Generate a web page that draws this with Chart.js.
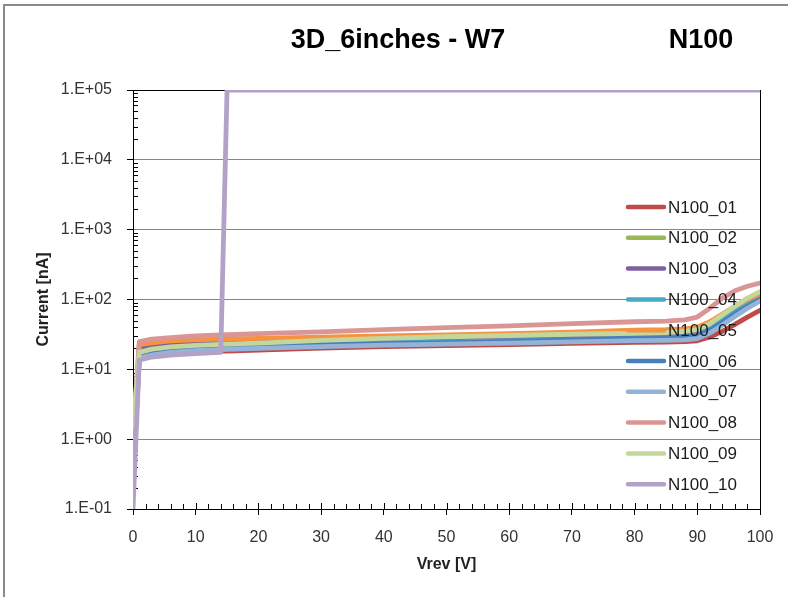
<!DOCTYPE html>
<html>
<head>
<meta charset="utf-8">
<title>3D_6inches - W7 N100</title>
<script src="https://cdn.jsdelivr.net/npm/chart.js@4.4.1/dist/chart.umd.min.js"></script>
<style>
  html, body { margin: 0; padding: 0; background: #fff; }
  #wrap { width: 788px; height: 597px; }
</style>
</head>
<body>
<div id="wrap"><canvas id="ivChart" width="788" height="597"></canvas></div>
<script>
// reverse voltage steps [V]
const vrev = [0, 1, 3, 6, 10, 14, 15, 20, 30, 40, 50, 60, 70, 80, 85, 88, 90, 92, 94, 96, 98, 100];

// leakage current [nA] per pad
const n100_01 = [0.25, 14, 15.4, 16.6, 17.6, 18.2, 18.3, 18.9, 20.1, 21.1, 21.8, 22.6, 23.5, 24.3, 24.6, 25, 25.6, 29, 35, 44, 56, 70];
const n100_02 = [0.6, 17, 19, 20.5, 21.5, 22.3, 22.5, 23.3, 25.5, 27, 28.5, 29.5, 30.8, 31.8, 32.3, 33.5, 35.5, 43, 56, 74, 95, 118];
const n100_03 = [0.5, 20.5, 22, 23, 23.8, 24.2, 24.4, 24.8, 25.5, 26.5, 27.2, 28, 28.8, 29.3, 30, 31, 33, 40, 52, 68, 86, 105];
const n100_04 = [0.4, 16, 17.8, 19.2, 20.5, 21.2, 21.4, 22, 23, 24, 24.5, 25.5, 26.5, 28, 28.5, 29.5, 31, 38, 50, 66, 86, 108];
const n100_05 = [0.8, 22.5, 24, 25.5, 26.5, 27, 27.2, 27.8, 29, 30, 31, 32.5, 34, 36.5, 37, 38, 40, 48, 62, 80, 100, 122];
const n100_06 = [0.35, 15.5, 17.3, 18.8, 20, 20.8, 21, 21.6, 22.6, 23.4, 24, 25, 26.3, 28, 28.3, 29, 30, 36, 47, 62, 80, 100];
const n100_07 = [0.3, 14.5, 16, 17.5, 18.5, 19.2, 19.4, 20, 21.2, 22.2, 23, 23.8, 24.8, 25.7, 26, 26.5, 27.5, 33, 43, 57, 75, 95];
const n100_08 = [1.2, 25, 27, 28.5, 30, 31, 31.3, 32.5, 34.5, 37, 39.5, 42, 45, 48, 49, 51, 56, 75, 105, 133, 155, 172];
const n100_09 = [1.5, 17.5, 19.5, 21, 22, 22.8, 23, 23.8, 26, 27.8, 29.3, 30.5, 31.8, 32.8, 33.5, 35, 37, 45, 60, 80, 105, 130];
const n100_10 = [0.1, 13.5, 15, 16, 16.8, 17.5, 100000, 100000, 100000, 100000, 100000, 100000, 100000, 100000, 100000, 100000, 100000, 100000, 100000, 100000, 100000, 100000];

const seriesNames = ['N100_01', 'N100_02', 'N100_03', 'N100_04', 'N100_05', 'N100_06', 'N100_07', 'N100_08', 'N100_09', 'N100_10'];
const seriesValues = [n100_01, n100_02, n100_03, n100_04, n100_05, n100_06, n100_07, n100_08, n100_09, n100_10];
const seriesColors = ['#BE4B48', '#98B954', '#7D60A0', '#46AAC5', '#F69240', '#4A7EBB', '#95B3D7', '#D99694', '#C3D69B', '#B3A2C7'];

const yTickValues = [0.1, 1, 10, 100, 1000, 10000, 100000];
const chartTitle = '3D_6inches - W7';
const chartTag = 'N100';

const FONT = "'Liberation Sans', Arial, sans-serif";
Chart.defaults.font.family = FONT;

function expLabel(value) {
    const e = Math.round(Math.log10(value));
    return '1.E' + (e < 0 ? '-' : '+') + String(Math.abs(e)).padStart(2, '0');
}

const decorations = {
    id: 'decorations',
    beforeDraw(chart) {
        const ctx = chart.ctx;
        ctx.save();
        // outer frame (only top/left edge visible)
        ctx.strokeStyle = '#8a8a8a';
        ctx.lineWidth = 2;
        ctx.strokeRect(4, 5, 900, 700);
        ctx.fillStyle = '#000';
        ctx.font = 'bold 27px ' + FONT;
        ctx.textBaseline = 'middle';
        ctx.textAlign = 'center';
        ctx.fillText(chartTitle, 398, 41);
        ctx.fillText(chartTag, 701, 41);
        ctx.restore();
    },
    beforeDatasetsDraw(chart) {
        const ctx = chart.ctx;
        const area = chart.chartArea;
        const xs = chart.scales.x;
        const ys = chart.scales.y;
        ctx.save();
        ctx.strokeStyle = '#000';
        ctx.lineWidth = 1;
        ctx.beginPath();
        // minor ticks on the log axis, inside the plot
        for (let e = -1; e < 5; e++) {
            for (let m = 2; m <= 9; m++) {
                const y = Math.round(ys.getPixelForValue(m * Math.pow(10, e))) + 0.5;
                ctx.moveTo(area.left, y);
                ctx.lineTo(area.left + 5, y);
            }
        }
        // x ticks inside the plot
        for (let v = 0; v <= 100; v += 2) {
            const x = Math.round(xs.getPixelForValue(v)) + 0.5;
            ctx.moveTo(x, area.bottom);
            ctx.lineTo(x, area.bottom - (v % 10 === 0 ? 6 : 5));
        }
        ctx.stroke();
        ctx.strokeRect(Math.round(area.left) + 0.5, Math.round(area.top) + 0.5,
            Math.round(area.right - area.left), Math.round(area.bottom - area.top));
        ctx.restore();
    },
    afterDatasetsDraw(chart) {
        const ctx = chart.ctx;
        ctx.save();
        ctx.font = '17px ' + FONT;
        ctx.textBaseline = 'middle';
        ctx.textAlign = 'left';
        chart.data.datasets.forEach((ds, i) => {
            const y = 207 + i * 30.8;
            ctx.strokeStyle = ds.borderColor;
            ctx.lineWidth = 4.5;
            ctx.lineCap = 'round';
            ctx.beginPath();
            ctx.moveTo(628, y);
            ctx.lineTo(664, y);
            ctx.stroke();
            ctx.fillStyle = '#1a1a1a';
            ctx.fillText(ds.label, 668, y + 1);
        });
        ctx.restore();
    }
};

const datasets = seriesNames.map((name, i) => ({
    label: name,
    data: vrev.map((v, k) => ({ x: v, y: seriesValues[i][k] })),
    borderColor: seriesColors[i],
    backgroundColor: seriesColors[i],
    borderWidth: 4.8,
    borderJoinStyle: 'round',
    borderCapStyle: 'round',
    pointRadius: 0,
    tension: 0,
    order: seriesNames.length - i
}));

new Chart(document.getElementById('ivChart'), {
    type: 'line',
    data: { datasets: datasets },
    options: {
        responsive: false,
        animation: false,
        devicePixelRatio: 1,
        layout: { padding: { left: 0, right: 28, top: 90, bottom: 0 } },
        plugins: {
            legend: { display: false },
            title: { display: false },
            tooltip: { enabled: false }
        },
        scales: {
            x: {
                type: 'linear',
                min: 0,
                max: 100,
                afterFit: scale => { scale.height = 88; },
                grid: { drawOnChartArea: false, tickLength: 6, tickColor: '#000' },
                border: { color: '#000', width: 1 },
                ticks: { stepSize: 10, maxRotation: 0, padding: 13, color: '#333', font: { size: 16 } },
                title: { display: true, text: 'Vrev [V]', color: '#222', font: { size: 16, weight: 'bold' }, padding: { top: 0, bottom: 23 } }
            },
            y: {
                type: 'logarithmic',
                min: 0.1,
                max: 100000,
                afterFit: scale => { scale.width = 133; },
                afterBuildTicks: scale => { scale.ticks = yTickValues.map(v => ({ value: v })); },
                grid: { color: '#868686', lineWidth: 1, tickLength: 6, tickColor: '#000' },
                border: { color: '#000', width: 1 },
                ticks: { padding: 15, color: '#333', font: { size: 16 }, callback: v => expLabel(v) },
                title: { display: true, text: 'Current [nA]', color: '#222', font: { size: 16, weight: 'bold' }, padding: { top: 34, bottom: 0 } }
            }
        }
    },
    plugins: [decorations]
});
</script>
</body>
</html>
